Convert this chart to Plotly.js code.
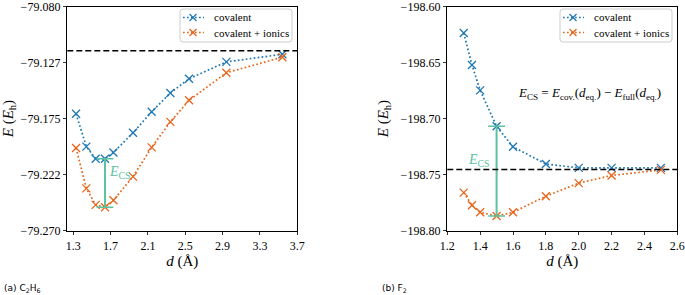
<!DOCTYPE html>
<html>
<head>
<meta charset="utf-8">
<script src="https://cdn.plot.ly/plotly-3.0.1.min.js"></script>
<style>html,body{margin:0;padding:0;background:#fff;}#chart{width:685px;height:295px;}</style>
</head>
<body>
<div id="chart"></div>
<script>
// ---- Data: (a) C2H6 ----
const c2h6_d    = [1.33, 1.44, 1.54, 1.64, 1.73, 1.94, 2.14, 2.34, 2.54, 2.94, 3.54];
const c2h6_cov  = [-79.1709, -79.1988, -79.2091, -79.2091, -79.2038, -79.1870, -79.1692, -79.1533, -79.1412, -79.1269, -79.1204];
const c2h6_full = [-79.2000, -79.2342, -79.2482, -79.2502, -79.2443, -79.2242, -79.1994, -79.1778, -79.1595, -79.1361, -79.1229];
const c2h6_ref  = -79.1175;
const c2h6_eqIndex = 3;
const c2h6_xticks = [1.3, 1.7, 2.1, 2.5, 2.9, 3.3, 3.7];
const c2h6_yticks = [-79.08, -79.1275, -79.175, -79.2225, -79.27];
const c2h6_yticktext = ["\u221279.080", "\u221279.127", "\u221279.175", "\u221279.222", "\u221279.270"];

// ---- Data: (b) F2 ----
const f2_d    = [1.3, 1.35, 1.4, 1.5, 1.6, 1.8, 2.0, 2.2, 2.5];
const f2_cov  = [-198.6236, -198.6521, -198.6748, -198.7069, -198.7252, -198.7405, -198.7440, -198.7440, -198.7440];
const f2_full = [-198.7661, -198.7773, -198.7837, -198.7870, -198.7837, -198.7693, -198.7576, -198.7508, -198.7458];
const f2_ref  = -198.7455;
const f2_eqIndex = 3;
const f2_yticks = [-198.60, -198.65, -198.70, -198.75, -198.80];
const f2_yticktext = ["\u2212198.60", "\u2212198.65", "\u2212198.70", "\u2212198.75", "\u2212198.80"];

const seriesNames = ["covalent", "covalent + ionics"];
const BLUE = "#1f77b4", ORANGE = "#e8651c", TEAL = "#5cc29f";
const SERIF = "Liberation Serif";
const DOT = "1.7px,2.3px";

function series(x, y, name, color, xa, ya) {
  return {
    x: x, y: y, name: name, type: "scatter", mode: "lines+markers",
    xaxis: xa, yaxis: ya, showlegend: false,
    line: {color: color, width: 1.7, dash: DOT},
    marker: {symbol: "x-thin", size: 8, line: {color: color, width: 1.3}, color: color}
  };
}
function ecs(x, yc, yf, xa, ya) {
  return {
    x: [x, x], y: [yc, yf], type: "scatter", mode: "lines+markers",
    xaxis: xa, yaxis: ya, showlegend: false, hoverinfo: "skip",
    line: {color: TEAL, width: 2},
    marker: {symbol: "line-ew", size: 12, line: {color: TEAL, width: 1.5}, color: TEAL}
  };
}

const traces = [
  series(c2h6_d, c2h6_cov, seriesNames[0], BLUE, "x", "y"),
  series(c2h6_d, c2h6_full, seriesNames[1], ORANGE, "x", "y"),
  ecs(c2h6_d[c2h6_eqIndex], c2h6_cov[c2h6_eqIndex], c2h6_full[c2h6_eqIndex], "x", "y"),
  series(f2_d, f2_cov, seriesNames[0], BLUE, "x2", "y2"),
  series(f2_d, f2_full, seriesNames[1], ORANGE, "x2", "y2"),
  ecs(f2_d[f2_eqIndex], f2_cov[f2_eqIndex], f2_full[f2_eqIndex], "x2", "y2")
];

const W = 685, H = 295;
const PX = v => v / W, PY = v => 1 - v / H;
const yDom = [PY(230.7), PY(6.5)];
const axBase = {
  showline: true, linecolor: "#000", linewidth: 1, mirror: true,
  ticks: "outside", ticklen: 3.5, tickwidth: 0.8, tickcolor: "#000",
  showgrid: false, zeroline: false, ticklabeloverflow: "allow",
  tickfont: {family: SERIF, size: 12, color: "#000"}
};
const titleFont = {family: SERIF, size: 15, color: "#000"};

// Legend boxes drawn like matplotlib's (rounded frame, short dotted sample with a cross)
function roundRect(x0, y0, x1, y1, r) {
  const p = (x, y) => PX(x) + "," + PY(y);
  return "M" + p(x0 + r, y0) + " L" + p(x1 - r, y0) + " Q" + p(x1, y0) + " " + p(x1, y0 + r) +
    " L" + p(x1, y1 - r) + " Q" + p(x1, y1) + " " + p(x1 - r, y1) +
    " L" + p(x0 + r, y1) + " Q" + p(x0, y1) + " " + p(x0, y1 - r) +
    " L" + p(x0, y0 + r) + " Q" + p(x0, y0) + " " + p(x0 + r, y0) + " Z";
}
function legendBox(left, top) {
  const shapes = [{type: "path", xref: "paper", yref: "paper", layer: "above",
    path: roundRect(left, top, left + 112, top + 33, 3),
    fillcolor: "rgba(255,255,255,0.8)", line: {color: "#cccccc", width: 1}}];
  const annots = [];
  const colors = [BLUE, ORANGE];
  seriesNames.forEach((nm, i) => {
    const yy = top + 8.5 + i * 15;
    const mx = left + 13;
    shapes.push({type: "line", xref: "paper", yref: "paper", layer: "above",
      x0: PX(left + 3), x1: PX(left + 24), y0: PY(yy), y1: PY(yy),
      line: {color: colors[i], width: 1.7, dash: DOT}});
    shapes.push({type: "line", xref: "paper", yref: "paper", layer: "above",
      x0: PX(mx - 3.5), x1: PX(mx + 3.5), y0: PY(yy - 3.5), y1: PY(yy + 3.5),
      line: {color: colors[i], width: 1.3}});
    shapes.push({type: "line", xref: "paper", yref: "paper", layer: "above",
      x0: PX(mx - 3.5), x1: PX(mx + 3.5), y0: PY(yy + 3.5), y1: PY(yy - 3.5),
      line: {color: colors[i], width: 1.3}});
    annots.push({xref: "paper", yref: "paper", x: PX(left + 32), y: PY(yy), xanchor: "left", yanchor: "middle",
      showarrow: false, text: nm, font: {family: SERIF, size: 11, color: "#000"}});
  });
  return {shapes, annots};
}
const legA = legendBox(180, 9);
const legB = legendBox(560, 9);

const layout = {
  width: W, height: H,
  margin: {l: 0, r: 0, t: 0, b: 0},
  paper_bgcolor: "#fff", plot_bgcolor: "#fff",
  font: {family: SERIF, color: "#000"},
  showlegend: false,
  xaxis: Object.assign({}, axBase, {
    domain: [PX(67.3), PX(297.3)], range: [1.236, 3.7001],
    tickvals: c2h6_xticks, tickformat: ".1f", anchor: "y",
    title: {text: "<i>d</i> (Å)", font: titleFont, standoff: 2}
  }),
  yaxis: Object.assign({}, axBase, {
    domain: yDom, range: [-79.2701, -79.0799],
    tickvals: c2h6_yticks, ticktext: c2h6_yticktext, anchor: "x",
    title: {text: "<i>E</i> (<i>E</i><sub>h</sub>)", font: titleFont, standoff: 8}
  }),
  xaxis2: Object.assign({}, axBase, {
    domain: [PX(447.3), PX(677.3)], range: [1.1999, 2.6001],
    dtick: 0.2, tick0: 1.2, tickformat: ".1f", anchor: "y2",
    title: {text: "<i>d</i> (Å)", font: titleFont, standoff: 2}
  }),
  yaxis2: Object.assign({}, axBase, {
    domain: yDom, range: [-198.8001, -198.5999],
    tickvals: f2_yticks, ticktext: f2_yticktext, anchor: "x2",
    title: {text: "<i>E</i> (<i>E</i><sub>h</sub>)", font: titleFont, standoff: 8}
  }),
  shapes: [
    {type: "line", xref: "x domain", yref: "y", x0: 0, x1: 1, y0: c2h6_ref, y1: c2h6_ref,
     line: {color: "#000", width: 1.6, dash: "6px,3px"}},
    {type: "line", xref: "x2 domain", yref: "y2", x0: 0, x1: 1, y0: f2_ref, y1: f2_ref,
     line: {color: "#000", width: 1.6, dash: "6px,3px"}}
  ].concat(legA.shapes, legB.shapes),
  annotations: [
    {xref: "x", yref: "y", x: 1.66, y: -79.2206, xanchor: "left", yanchor: "middle", showarrow: false,
     text: "<i>E</i><sub>CS</sub>", font: {family: SERIF, size: 14, color: TEAL}},
    {xref: "x2", yref: "y2", x: 1.475, y: -198.7375, xanchor: "right", yanchor: "middle", showarrow: false,
     text: "<i>E</i><sub>CS</sub>", font: {family: SERIF, size: 14, color: TEAL}},
    {xref: "x2", yref: "y2", x: 2.066, y: -198.6775, xanchor: "center", yanchor: "middle", showarrow: false,
     text: "<i>E</i><sub>CS</sub> = <i>E</i><sub>cov.</sub>(<i>d</i><sub>eq.</sub>) \u2212 <i>E</i><sub>full</sub>(<i>d</i><sub>eq.</sub>)",
     font: {family: SERIF, size: 13, color: "#000"}},
    {xref: "paper", yref: "paper", x: PX(2), y: PY(288), xanchor: "left", yanchor: "middle", showarrow: false,
     text: "(a) C<sub>2</sub>H<sub>6</sub>", font: {family: "DejaVu Sans", size: 9, color: "#000"}},
    {xref: "paper", yref: "paper", x: PX(380), y: PY(288), xanchor: "left", yanchor: "middle", showarrow: false,
     text: "(b) F<sub>2</sub>", font: {family: "DejaVu Sans", size: 9, color: "#000"}}
  ].concat(legA.annots, legB.annots)
};

Plotly.newPlot("chart", traces, layout, {staticPlot: true, displayModeBar: false});
</script>
</body>
</html>
